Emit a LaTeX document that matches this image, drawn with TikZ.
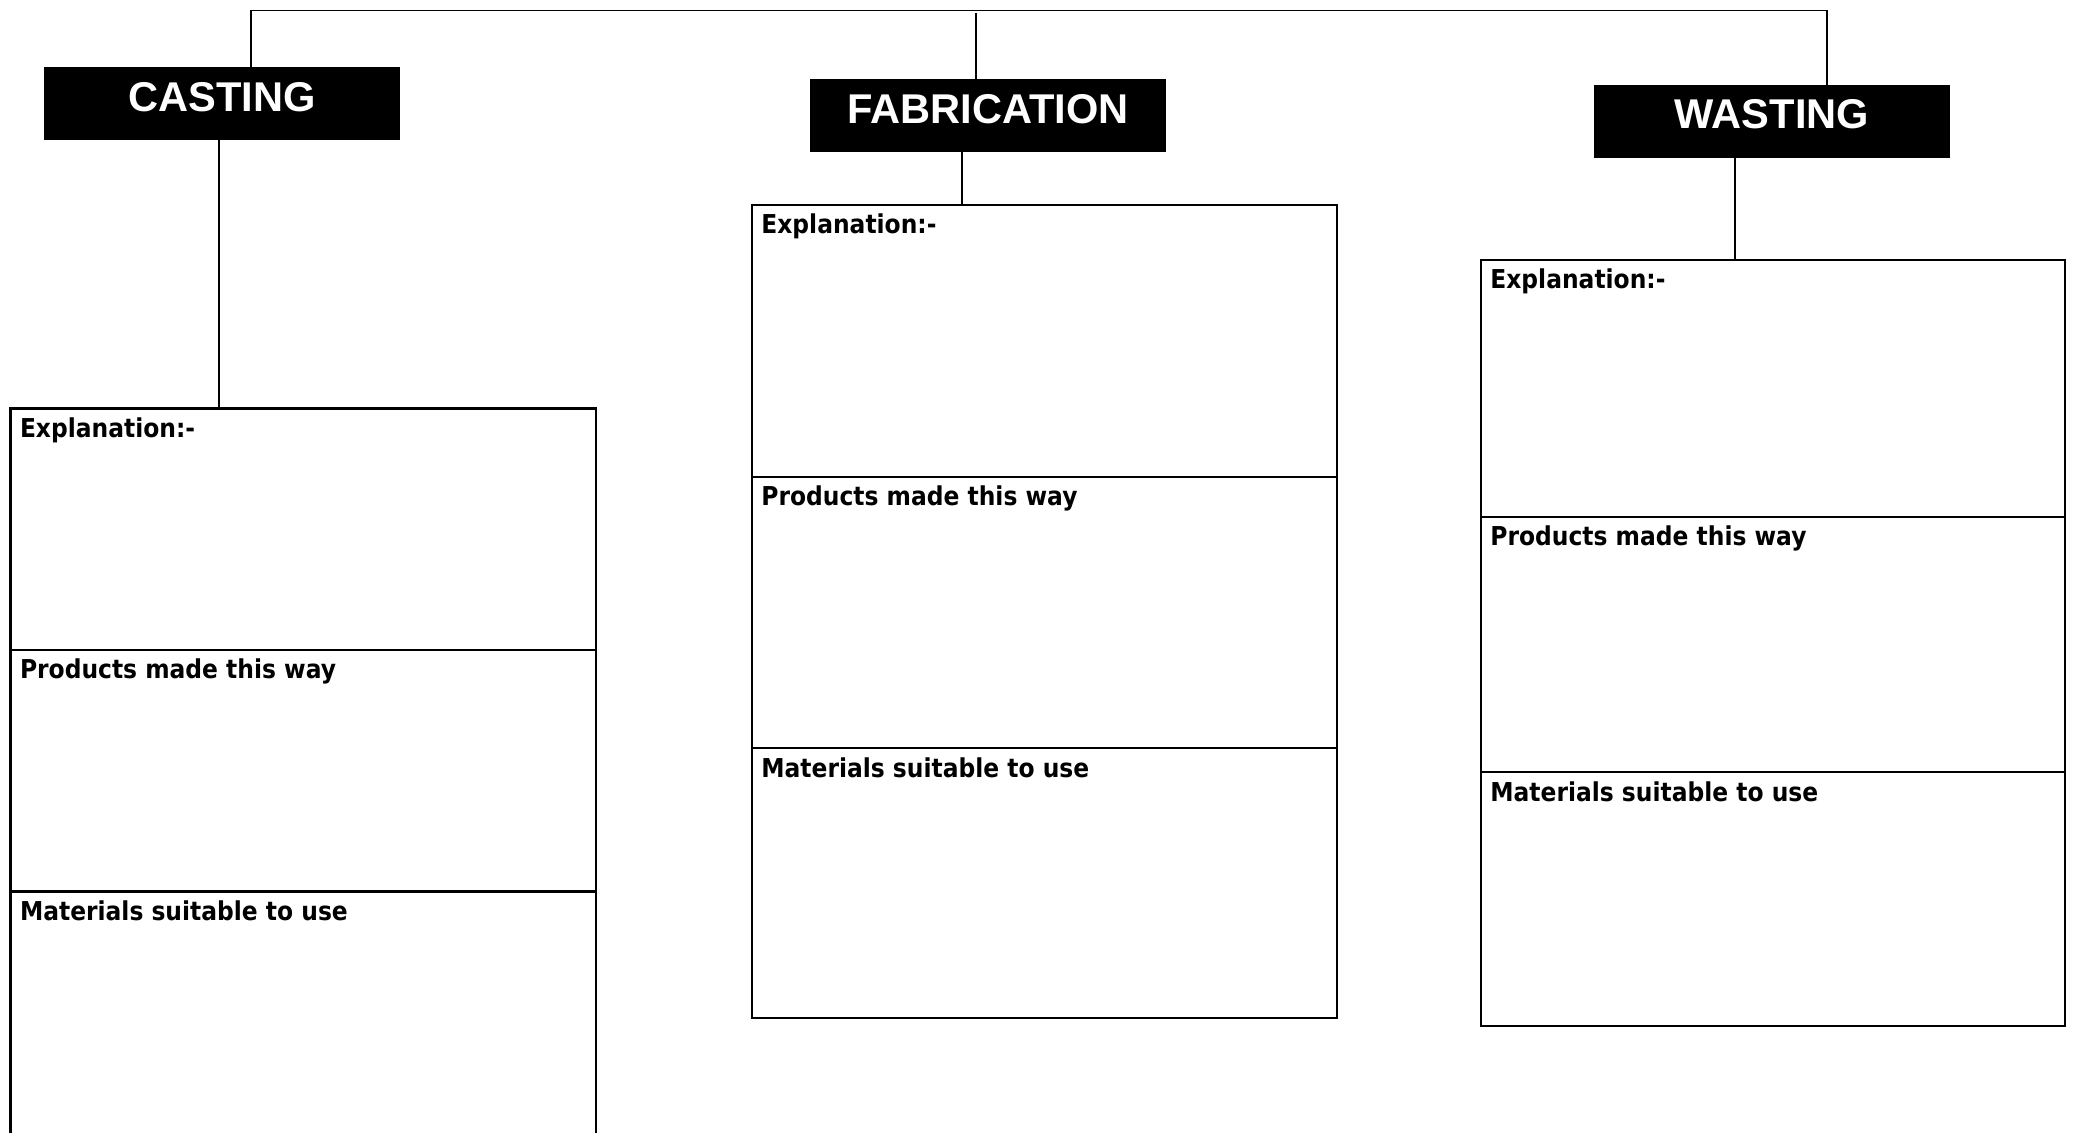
\documentclass[tikz,border=0pt]{standalone}
\usepackage{fontspec}
\usetikzlibrary{calc}
\newfontfamily\headfont{Liberation Sans}
\newfontfamily\cellfont{DejaVu Sans}[FakeStretch=0.9]

\begin{document}
\begin{tikzpicture}[x=0.5pt,y=-0.5pt,
  header/.style={fill=black, text=white, inner sep=0pt, outer sep=0pt, anchor=north west,
    minimum width=178pt, minimum height=36.5pt, text height=22pt, text depth=14.5pt,
    font=\headfont\bfseries\fontsize{20.8}{24}\selectfont},
  cell/.style={draw=black, line width=1.2pt, inner sep=0pt, outer sep=0pt, anchor=north west},
  celltitle/.style={anchor=base west, inner sep=0pt,
    font=\cellfont\bfseries\fontsize{13}{15}\selectfont},
  link/.style={draw=black, line width=0.9pt}]

% page frame
\useasboundingbox (0,0) rectangle (2073,1133);
\clip (0,0) rectangle (2073,1133);
\fill[white] (0,0) rectangle (2073,1133);

% process headings
\node[header] (cast) at (44,67.5) {CASTING};
\node[header] (fab) at (810,79.5) {FABRICATION};
\node[header] (wast) at (1594,85) {WASTING};

% casting column
\node[cell, minimum width=292.7pt, minimum height=120.75pt] (cexp) at (10.6,408.5) {};
\node[cell, minimum width=292.7pt, minimum height=120.75pt] (cprod) at (cexp.south west) {};
\node[cell, minimum width=292.7pt, minimum height=130pt] (cmat) at (cprod.south west) {};

% fabrication column
\node[cell, minimum width=292.5pt, minimum height=136pt] (fexp) at (752,205) {};
\node[cell, minimum width=292.5pt, minimum height=135.5pt] (fprod) at (fexp.south west) {};
\node[cell, minimum width=292.5pt, minimum height=135pt] (fmat) at (fprod.south west) {};

% wasting column
\node[cell, minimum width=292pt, minimum height=128.5pt] (wexp) at (1481,260) {};
\node[cell, minimum width=292pt, minimum height=127.5pt] (wprod) at (wexp.south west) {};
\node[cell, minimum width=292pt, minimum height=127pt] (wmat) at (wprod.south west) {};

% cell headings
\foreach \c in {c,f,w}{
  \node[celltitle] (\c expT) at ($(\c exp.north west)+(9,29)$) {Explanation:-};
  \node[celltitle] (\c prodT) at ($(\c prod.north west)+(9,29)$) {Products made this way};
  \node[celltitle] (\c matT) at ($(\c mat.north west)+(9,29)$) {Materials suitable to use};
}

% top bar joining the three headings
\coordinate (barL) at (251,10.6);
\coordinate (barM) at (976,13);
\coordinate (barR) at (1827,10.6);
\draw[link] (barL |- cast.north) -- (barL) -- (barR) -- (barR |- wast.north);
\draw[link] (barM) -- (barM |- fab.north);

% drops from each heading to its column
\coordinate (castDrop) at ($(cast.south)+(-3,0)$);
\coordinate (fabDrop) at ($(fab.south)+(-26,0)$);
\coordinate (wastDrop) at ($(wast.south)+(-37,0)$);
\draw[link] (castDrop) -- (castDrop |- cexp.north);
\draw[link] (fabDrop) -- (fabDrop |- fexp.north);
\draw[link] (wastDrop) -- (wastDrop |- wexp.north);

\end{tikzpicture}
\end{document}
